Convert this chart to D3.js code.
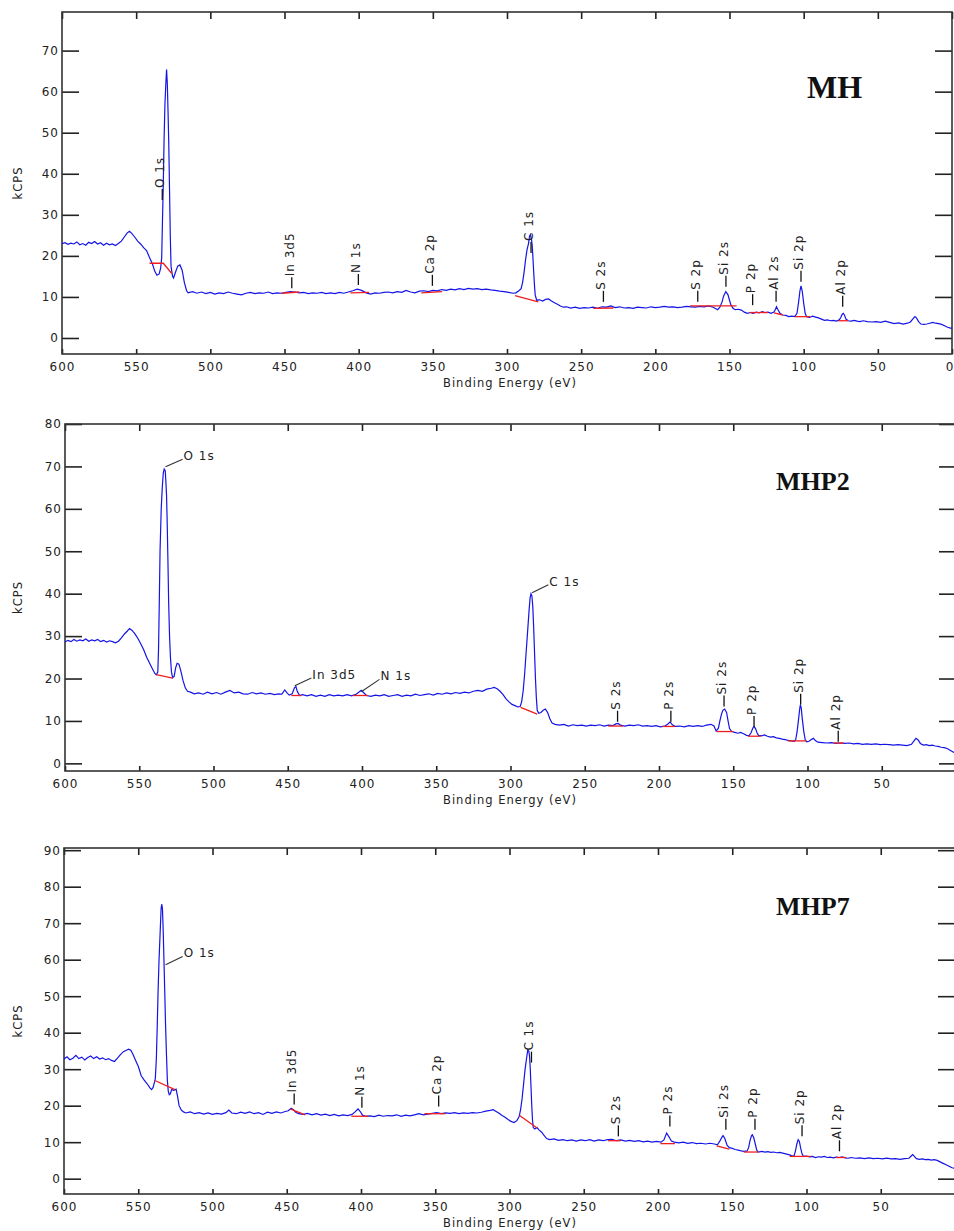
<!DOCTYPE html>
<html>
<head>
<meta charset="utf-8">
<script src="https://cdn.jsdelivr.net/npm/d3@7/dist/d3.min.js"></script>
<style>
  body { margin: 0; background: #fff; }
  .tick text { font-family: "DejaVu Sans", sans-serif; font-size: 12px; letter-spacing: 1px; fill: #222; }
</style>
</head>
<body>
<div id="chart"></div>
<script>
// XPS survey spectra for MH, MHP2, MHP7 (binding energy vs kCPS)

var energyTicks = [600, 550, 500, 450, 400, 350, 300, 250, 200, 150, 100, 50, 0];

// ---- MH ----
var mhTicks = [0, 10, 20, 30, 40, 50, 60, 70];
var mhSpectrum = [
  [600,23.0],[598,23.2],[596,22.8],[594,23.1],[592,22.9],[590,23.4],[588,22.7],[586,23.0],[584,22.6],[582,23.3],
  [580,23.0],[578,23.5],[576,22.9],[574,23.2],[572,22.6],[570,23.1],[568,22.7],[566,22.9],[564,22.5],[562,23.0],
  [560,23.6],[558,24.6],[556,25.6],[554.5,26.0],[553,25.5],[551,24.6],[549,23.6],[547,22.9],[545,22.0],[543,21.3],
  [541,19.6],[539,18.0],[537.5,16.3],[536,15.3],[534.5,15.6],[533.5,17.0],[532.8,19.5],[532.3,28],[531.8,36],[531.2,48],
  [530.6,57],[530,62],[529.5,65.4],[529,62],[528.5,55],[528,47],[527.5,36],[527,25],[526.5,17.5],[525.5,15.0],
  [524.8,14.6],[523.5,16.0],[522,17.5],[520.5,17.8],[519,16.5],[517.5,13.5],[516,11.5],[515,11.0],[512,11.3],[509,10.9],
  [506,11.2],[503,10.8],[500,11.1],[497,10.7],[494,11.0],[491,10.8],[488,11.2],[485,10.9],[482,10.7],[479,10.5],
  [476,10.9],[473,11.1],[470,10.8],[467,11.0],[464,10.9],[461,11.2],[458,10.8],[455,11.0],[452,10.9],[449,11.1],
  [446,11.3],[443,11.2],[440,11.0],[437,11.1],[434,10.8],[431,11.0],[428,10.9],[425,11.1],[422,10.8],[419,11.0],
  [416,10.8],[413,11.1],[410,10.9],[407,11.2],[404,11.5],[401,11.9],[398,11.6],[395,11.0],[392,10.7],[389,11.0],
  [386,10.9],[383,11.1],[380,11.2],[377,11.0],[374,11.3],[371,11.1],[368,11.6],[365,11.2],[362,11.0],[359,11.4],
  [356,11.5],[353,11.3],[350,11.6],[347,11.5],[344,11.8],[341,11.6],[338,11.9],[335,11.7],[332,12.0],[329,11.8],
  [326,12.1],[323,11.9],[320,12.0],[317,11.8],[314,11.9],[311,11.7],[308,11.6],[305,11.4],[302,11.3],[299,11.1],
  [296,10.9],[294,11.0],[292,11.5],[290.5,12.0],[289.5,13.5],[288.5,16],[287.5,19],[286.5,21.5],[285.5,23],[284.8,24.8],
  [284.2,25.2],[283.5,24.0],[283,22.5],[282.5,19.5],[282,16],[281.5,13],[281,10.5],[280,9.2],[278,9.3],[276,9.0],
  [274,9.4],[272,9.5],[270,9.0],[268,8.6],[266,8.2],[264,7.8],[262,7.5],[260,7.6],[257,7.3],[254,7.5],
  [251,7.2],[248,7.4],[245,7.3],[242,7.5],[239,7.2],[236,7.6],[233,7.5],[230,7.8],[227,7.4],[224,7.6],
  [221,7.3],[218,7.4],[215,7.2],[212,7.5],[209,7.4],[206,7.3],[203,7.6],[200,7.4],[197,7.5],[194,7.7],
  [191,7.5],[188,7.6],[185,7.4],[182,7.5],[179,7.7],[176,7.6],[173,7.5],[170,7.7],[167,7.6],[164,7.8],
  [161,7.5],[158,6.9],[156.5,7.5],[155,8.8],[154,10.2],[152.5,11.3],[151,10.5],[150,9.2],[149,8.0],[147.5,7.2],
  [146,6.9],[144,7.0],[142,6.8],[140,6.3],[138,6.0],[136,6.2],[134,6.0],[132,6.3],[130,6.1],[128,6.4],
  [126,6.2],[124,6.3],[122,6.0],[120,6.3],[119,7.0],[118.3,7.6],[117.5,7.0],[116,6.0],[114,5.6],[112,5.5],
  [110,5.2],[108,5.3],[106,5.2],[104.5,6.0],[103.5,8.5],[102.5,11.5],[101.8,12.7],[101,11.5],[100,8.5],[99,6.0],
  [98,5.2],[96,5.0],[94,5.3],[92,5.1],[90,4.9],[88,4.6],[86,4.3],[84,4.4],[82,4.2],[80,4.3],
  [78,4.1],[76,4.4],[75,5.0],[74,5.8],[73.3,6.0],[72.5,5.6],[71.5,4.6],[70,4.2],[68,4.1],[66,4.3],
  [64,4.1],[62,4.0],[60,4.2],[57,4.0],[54,3.9],[51,4.0],[48,3.8],[45,4.1],[42,3.8],[39,3.5],
  [36,3.7],[33,3.4],[30,3.6],[28,3.9],[26.5,4.6],[25,5.2],[24,4.9],[22.5,4.0],[21,3.4],[19,3.3],
  [17,3.4],[15,3.6],[13,3.8],[11,3.6],[9,3.5],[7,3.3],[5,3.0],[3,2.6],[1,2.4],[0,2.4]
];
var mhBackground = [
  [[541,18.2],[531.7,18.2],[526,15.7]],
  [[452,10.9],[440,11.2]],
  [[405.6,11.0],[393,11.1]],
  [[357.8,11.0],[343.7,11.3]],
  [[294.6,10.3],[278.9,8.8]],
  [[241.8,7.2],[228.3,7.3]],
  [[176.6,7.8],[145.2,7.8]],
  [[136.2,6.2],[124,6.2]],
  [[120,6.1],[114,5.6]],
  [[105.8,5.2],[95.7,5.2]],
  [[76.7,4.2],[70,4.2]]
];
// [label, energy of leader, kCPS at leader foot]
var mhLabels = [
  ["O 1s", 532.4, 33.6], ["In 3d5", 445.1, 12.1], ["N 1s", 400.2, 12.9], ["Ca 2p", 350.3, 12.7],
  ["C 1s", 283.8, 20.7], ["S 2s", 235.0, 8.8], ["S 2p", 171.4, 8.8], ["Si 2s", 152.4, 12.5],
  ["P 2p", 134.4, 8.0], ["Al 2s", 118.6, 8.8], ["Si 2p", 101.8, 13.7], ["Al 2p", 73.7, 7.6]
];
var mhFlatLabels = [];

// ---- MHP2 ----
var mhp2Ticks = [0, 10, 20, 30, 40, 50, 60, 70, 80];
var mhp2Spectrum = [
  [600,28.6],[598,29.0],[596,28.7],[594,29.2],[592,28.8],[590,29.1],[588,28.9],[586,29.3],[584,28.8],[582,29.1],
  [580,28.9],[578,29.2],[576,28.7],[574,29.0],[572,28.6],[570,28.9],[568,28.7],[566,28.4],[564,28.8],[562,29.6],
  [560,30.5],[558,31.2],[556.5,31.8],[555,31.4],[553,30.6],[551,29.5],[549,28.2],[547,26.8],[545,25.0],[543,23.6],
  [541,22.2],[539.5,21.2],[538.5,20.9],[537.5,21.5],[537,27],[536.5,38],[536,50],[535.2,60],[534.5,65],[533.8,68.5],
  [533.2,69.4],[532.5,69.0],[532,66],[531.6,63],[531.2,57],[530.7,48],[530.2,38],[529.6,30],[529,25],[528.3,21.5],
  [527.5,20.2],[526.5,20.5],[525.5,22.5],[524.5,23.6],[523.3,23.4],[522,21.8],[520.5,19.5],[519,17.8],[517.5,17.0],[515.5,16.8],
  [513,16.4],[510,16.6],[507,16.3],[504,16.8],[501,16.4],[498,16.7],[495,16.3],[492,16.8],[489,17.2],[486,16.6],
  [483,16.8],[480,16.4],[477,16.3],[474,16.7],[471,16.4],[468,16.6],[465,16.3],[462,16.5],[459,16.2],[456,16.4],
  [454,16.3],[452,17.3],[450.5,16.6],[449,16.1],[447,16.4],[445.5,17.8],[444.5,18.1],[443.5,16.9],[442,16.0],[440,16.2],
  [437,15.9],[434,16.2],[431,15.8],[428,16.1],[425,15.8],[422,16.2],[419,15.9],[416,16.1],[413,15.9],[410,16.2],
  [407,15.9],[404,16.3],[402,16.8],[400.5,17.2],[399,16.7],[397,16.0],[394,15.8],[391,16.1],[388,15.9],[385,16.2],
  [382,15.8],[379,16.0],[376,16.2],[373,15.8],[370,16.1],[367,15.9],[364,16.3],[361,16.0],[358,16.2],[355,16.4],
  [352,16.1],[349,16.5],[346,16.3],[343,16.6],[340,16.4],[337,16.7],[334,16.5],[331,16.8],[328,16.6],[325,17.0],
  [322,17.2],[319,17.0],[316,17.5],[313,17.7],[311,17.9],[309,17.6],[307,17.0],[305,16.2],[303,15.2],[301,14.5],
  [299,13.9],[297,13.6],[295,13.3],[293.5,13.4],[292.5,14.5],[291.5,17],[290.5,21],[289.5,26],[288.5,31],[287.5,36],
  [286.8,39],[286.2,40.0],[285.6,39.5],[285,37],[284.4,32],[283.8,26],[283.2,20],[282.6,15.5],[282,12.5],[281,11.8],
  [279.5,12.0],[278,12.5],[276.5,12.8],[275,12.0],[273.5,10.5],[272,9.5],[270,9.2],[267,9.0],[264,9.2],[261,8.8],
  [258,9.1],[255,8.9],[252,9.0],[249,8.8],[246,9.0],[243,8.9],[240,9.1],[237,8.8],[234,9.0],[231,8.9],
  [229,9.3],[227.5,9.4],[226,9.0],[223,8.8],[220,9.0],[217,8.9],[214,9.1],[211,8.8],[208,8.9],[205,8.7],
  [202,8.9],[199,8.6],[196,8.8],[194,9.3],[192.5,9.8],[191,9.1],[189,8.7],[186,8.8],[183,8.6],[180,8.9],
  [177,8.7],[174,8.9],[171,8.7],[168,9.0],[165,9.2],[163,8.8],[161.5,7.6],[160,8.3],[159,10],[158,11.5],
  [157,12.5],[155.8,12.8],[154.5,12.0],[153.5,10],[152.5,8.2],[151,7.5],[149,7.3],[147,7.1],[145,7.3],[143,7.0],
  [141,6.6],[139.5,6.5],[138,7.2],[136.8,8.3],[136,8.7],[135,8.2],[134,7.2],[133,6.6],[131,6.5],[129,6.7],
  [127,6.4],[125,6.2],[123,6.3],[121,6.0],[119,5.9],[117,5.7],[115,5.6],[113,5.4],[111,5.3],[109,5.2],
  [108,5.5],[107,7.5],[106,10.5],[105.2,13],[104.8,13.8],[104.2,13],[103.5,10.5],[102.5,7.5],[101.5,5.5],[100.5,5.1],
  [99,5.2],[97.5,5.6],[96,5.9],[94.5,5.3],[93,5.0],[90,4.9],[87,4.8],[84,4.9],[81,4.7],[78,4.8],
  [75,4.7],[72,4.8],[69,4.6],[66,4.7],[63,4.5],[60,4.6],[57,4.5],[54,4.6],[51,4.4],[48,4.5],
  [45,4.4],[42,4.3],[39,4.4],[36,4.3],[33,4.2],[30,4.5],[28.5,5.2],[27,5.9],[25.5,5.5],[24,4.7],
  [22,4.3],[20,4.4],[18,4.2],[16,4.3],[14,4.1],[12,4.0],[10,3.8],[8,3.7],[6,3.5],[4,3.1],[2,2.7],[0,2.4]
];
var mhp2Background = [
  [[538.5,20.9],[527.5,20.1]],
  [[447.6,16.0],[440.8,16.0]],
  [[406,16.0],[396,16.0]],
  [[293.2,13.2],[282,11.6]],
  [[234.2,8.8],[224.3,8.8]],
  [[197.6,8.7],[189.2,8.7]],
  [[161.1,7.5],[149.9,7.5]],
  [[140,6.4],[131.6,6.4]],
  [[113.3,5.3],[100.7,5.3]],
  [[82.4,4.8],[75.4,4.8]]
];
var mhp2Labels = [
  ["S 2s", 227.9, 9.8], ["P 2s", 192.0, 9.8], ["Si 2s", 156.2, 13.4],
  ["P 2p", 136.0, 8.6], ["Si 2p", 104.6, 13.8], ["Al 2p", 79.3, 5.1]
];
// [label, peak energy, peak kCPS, text energy, text kCPS]
var mhp2FlatLabels = [
  ["O 1s", 532.3, 69.9, 520.8, 71.7], ["C 1s", 285.5, 40.2, 274.5, 42.1],
  ["In 3d5", 445.3, 18.3, 434.1, 20.1], ["N 1s", 400.5, 16.9, 388.2, 19.8]
];

// ---- MHP7 ----
var mhp7Ticks = [0, 10, 20, 30, 40, 50, 60, 70, 80, 90];
var mhp7Spectrum = [
  [600,32.8],[598,33.4],[596,32.6],[594,33.0],[592,33.8],[590,32.9],[588,33.3],[586,32.5],[584,33.2],[582,33.6],
  [580,32.9],[578,33.4],[576,32.8],[574,33.1],[572,32.6],[570,32.9],[568,32.4],[566,32.1],[564,33.0],[562,34.0],
  [560,34.8],[558,35.2],[556.5,35.5],[555,35.2],[553.5,34.0],[552,32.6],[550,30.8],[548,28.2],[546,27.0],[544,26.0],
  [542,24.8],[541,24.4],[540,25.0],[539,26.5],[538.5,27.5],[537.8,33],[537.2,42],[536.6,52],[536,60],[535.2,68],
  [534.6,74],[534.2,75.2],[533.7,74],[533.2,68],[532.7,60],[532.2,52],[531.6,42],[531,34],[530.4,27],[529.8,24],
  [529.1,23.0],[528.4,23.2],[527.5,24.4],[526,24.2],[524.5,24.5],[523.5,22.5],[522.5,20.0],[521,18.8],[519.5,18.3],[518,18.0],
  [515,18.3],[512,17.8],[509,18.1],[506,17.7],[503,18.0],[500,17.6],[497,17.9],[494,17.7],[491,18.1],[489,18.8],
  [487,18.0],[484,17.8],[481,18.2],[478,17.9],[475,18.3],[472,17.8],[469,18.1],[466,17.6],[463,18.2],[460,17.9],
  [457,18.3],[454,18.0],[451,18.4],[449,18.6],[447,19.3],[445.5,18.9],[444,18.2],[442,17.8],[439,17.6],[436,17.9],
  [433,17.5],[430,17.8],[427,17.4],[424,17.7],[421,17.3],[418,17.6],[415,17.2],[412,17.5],[409,17.3],[406,17.6],
  [404,18.3],[402,19.1],[400.5,18.4],[399,17.4],[397,17.1],[394,17.2],[391,17.0],[388,17.4],[385,17.1],[382,17.3],
  [379,17.2],[376,17.5],[373,17.1],[370,17.4],[367,17.2],[364,17.5],[361,17.8],[358,17.5],[355,17.7],[352,17.9],
  [349,18.1],[346,17.8],[343,18.0],[340,17.9],[337,18.1],[334,17.8],[331,18.0],[328,17.9],[325,18.1],[322,18.0],
  [319,18.2],[316,18.5],[313,18.7],[311,18.9],[309,18.4],[307,17.9],[305,17.3],[303,16.8],[301,16.2],[299,15.7],
  [297,15.4],[295,15.9],[293.5,17.0],[292.5,19],[291.5,22],[290.5,26],[289.5,30],[288.5,33],[287.7,35.3],[287,35.0],
  [286.5,33.5],[286,30],[285.5,25],[285,20],[284.5,16],[284,14.0],[283,13.6],[281.5,14.0],[280,13.3],[278.5,12.8],
  [277,12.0],[275,11.0],[273,10.7],[270,10.9],[267,10.5],[264,10.7],[261,10.4],[258,10.6],[255,10.3],[252,10.6],
  [249,10.4],[246,10.7],[243,10.3],[240,10.6],[237,10.4],[234,10.7],[231,10.8],[228,10.4],[225,10.6],[222,10.3],
  [219,10.5],[216,10.2],[213,10.4],[210,10.1],[207,10.3],[204,10.0],[201,10.2],[198,10.0],[196,10.6],[194.2,12.5],
  [192.5,11.4],[191,10.3],[189,10.0],[186,9.8],[183,10.0],[180,9.7],[177,9.9],[174,9.6],[171,9.7],[168,9.5],
  [165,9.7],[162,9.5],[160,9.3],[158.5,10.2],[157,11.3],[156.2,11.8],[155,11.0],[153.5,9.2],[152,8.5],[150,8.3],
  [148,8.0],[146,7.8],[144,7.6],[142,7.5],[140,7.6],[139,8.5],[138,10.5],[137,11.8],[136.5,12.0],[135.5,11.2],
  [134.5,9.5],[133.5,7.8],[132.5,7.3],[130,7.5],[128,7.3],[126,7.4],[124,7.2],[122,7.3],[120,7.1],[118,7.2],
  [116,7.0],[114,6.8],[112,6.6],[110,6.3],[108.5,6.1],[107.5,7.5],[106.5,9.5],[105.6,10.7],[104.8,10.2],[104,8.5],
  [103,6.8],[102,6.1],[100,6.2],[98,6.0],[96,6.1],[94,5.8],[92,6.0],[90,5.9],[88,6.1],[86,5.8],
  [84,5.9],[82,5.7],[80,5.9],[78,5.8],[76,6.0],[74,5.7],[72,5.6],[70,5.8],[67,5.6],[64,5.7],
  [61,5.5],[58,5.7],[55,5.5],[52,5.6],[49,5.4],[46,5.6],[43,5.4],[40,5.5],[37,5.3],[34,5.5],
  [31,5.6],[29.5,6.2],[28.5,6.6],[27.5,6.2],[26,5.5],[24,5.3],[22,5.4],[20,5.2],[18,5.3],[16,5.1],
  [14,5.2],[12,5.0],[10,4.6],[8,4.2],[6,3.8],[4,3.4],[2,3.0],[0,2.8]
];
var mhp7Background = [
  [[538.8,26.9],[525.3,24.4]],
  [[447.7,19.1],[437.6,17.5]],
  [[406.5,17.1],[395.2,17.1]],
  [[357.3,17.8],[343.2,17.8]],
  [[293.2,17.3],[281.4,13.9]],
  [[233.6,10.4],[225.1,10.4]],
  [[198.4,9.6],[188.6,9.6]],
  [[160.5,9.0],[152,8.1]],
  [[142.2,7.3],[132.4,7.3]],
  [[111.3,6.1],[97.2,6.1]],
  [[80.3,5.8],[73.3,5.8]]
];
var mhp7Labels = [
  ["In 3d5", 445.0, 20.3], ["N 1s", 399.4, 19.4], ["Ca 2p", 347.7, 19.8], ["C 1s", 285.2, 31.8],
  ["S 2s", 226.7, 11.6], ["P 2s", 192.0, 14.3], ["Si 2s", 154.3, 13.4], ["P 2p", 134.7, 13.4],
  ["Si 2p", 103.0, 11.6], ["Al 2p", 77.8, 7.5]
];
var mhp7FlatLabels = [["O 1s", 531.6, 58.6, 520.1, 60.9]];

// bottom tick labels (the last one falls off the page for the lower two panels)
var mhEnergyLabels = energyTicks;
var mhpEnergyLabels = energyTicks.slice(0, 12);

var panels = [
  {name: "MH", spectrum: mhSpectrum, background: mhBackground, labels: mhLabels, flat: mhFlatLabels, ticks: mhTicks,
   xLabels: mhEnergyLabels,
   left: 62, right: 952, top: 12, bottom: 354, yDomain: [-3.9, 79.4], titleX: 807, titleY: 98, titleSize: 32},
  {name: "MHP2", spectrum: mhp2Spectrum, background: mhp2Background, labels: mhp2Labels, flat: mhp2FlatLabels, ticks: mhp2Ticks,
   xLabels: mhpEnergyLabels,
   left: 65, right: 956, top: 424, bottom: 771, yDomain: [-1.8, 80.0], titleX: 776, titleY: 490, titleSize: 26},
  {name: "MHP7", spectrum: mhp7Spectrum, background: mhp7Background, labels: mhp7Labels, flat: mhp7FlatLabels, ticks: mhp7Ticks,
   xLabels: mhpEnergyLabels,
   left: 64, right: 955, top: 848, bottom: 1194, yDomain: [-4.2, 90.6], titleX: 776, titleY: 915, titleSize: 26}
];

var svg = d3.select("#chart").append("svg")
    .attr("width", 954).attr("height", 1231);

var labelFont = "'DejaVu Sans', sans-serif";

panels.forEach(function(p) {
    var x = d3.scaleLinear().domain([600, 0]).range([p.left, p.right]);
    var y = d3.scaleLinear().domain(p.yDomain).range([p.bottom, p.top]);
    var g = svg.append("g");

    // axes: long ticks inside on left/right, short ticks top and bottom
    g.append("g").attr("transform", `translate(${p.left},0)`)
        .call(d3.axisLeft(y).tickValues(p.ticks).tickSize(-17).tickPadding(3));
    g.append("g").attr("transform", `translate(${p.right},0)`)
        .call(d3.axisRight(y).tickValues(p.ticks).tickSize(-17).tickFormat(""));
    g.append("g").attr("transform", `translate(0,${p.top})`)
        .call(d3.axisTop(x).tickValues(energyTicks).tickSize(-7).tickFormat(""));
    g.append("g").attr("transform", `translate(0,${p.bottom})`)
        .call(d3.axisBottom(x).tickValues(energyTicks).tickSize(-5).tickFormat(""));
    g.append("g").attr("class", "xlab").attr("transform", `translate(0,${p.bottom})`)
        .call(d3.axisBottom(x).tickValues(p.xLabels).tickSize(0).tickPadding(8));
    g.selectAll(".domain").remove();
    g.selectAll(".tick line").attr("stroke", "#222").attr("stroke-width", 1.6);
    // keep the "0" label of the top panel on the page
    g.selectAll(".xlab .tick text").filter(d => d === 0)
        .attr("text-anchor", "end").attr("x", 954 - p.right);

    g.append("rect")
        .attr("x", p.left).attr("y", p.top)
        .attr("width", p.right - p.left).attr("height", p.bottom - p.top)
        .attr("fill", "none").attr("stroke", "#333").attr("stroke-width", 1.6);

    // axis titles
    g.append("text")
        .attr("x", 510).attr("y", p.bottom + 33)
        .attr("text-anchor", "middle")
        .style("font-family", labelFont).style("font-size", "11.5px").style("letter-spacing", "1px")
        .attr("fill", "#222")
        .text("Binding Energy (eV)");
    g.append("text")
        .attr("transform", `translate(22,${(p.top + p.bottom) / 2}) rotate(-90)`)
        .attr("text-anchor", "middle")
        .style("font-family", labelFont).style("font-size", "11.5px").style("letter-spacing", "1px")
        .attr("fill", "#222")
        .text("kCPS");

    // spectrum + backgrounds
    var line = d3.line().x(d => x(d[0])).y(d => y(d[1]));
    g.append("path").datum(p.spectrum)
        .attr("d", line).attr("fill", "none")
        .attr("stroke", "#1414e6").attr("stroke-width", 1.2);
    g.selectAll(".bg").data(p.background).enter().append("path")
        .attr("d", line).attr("fill", "none")
        .attr("stroke", "#f01e1e").attr("stroke-width", 1.3);

    // vertical peak labels
    var vl = g.selectAll(".vlab").data(p.labels).enter().append("g");
    vl.append("line")
        .attr("x1", d => x(d[1])).attr("x2", d => x(d[1]))
        .attr("y1", d => y(d[2])).attr("y2", d => y(d[2]) - 11)
        .attr("stroke", "#111").attr("stroke-width", 1.3);
    vl.append("text")
        .attr("transform", d => `translate(${x(d[1]) + 2},${y(d[2]) - 12}) rotate(-90)`)
        .style("font-family", labelFont).style("font-size", "12px").style("letter-spacing", "1px")
        .attr("fill", "#222")
        .text(d => d[0]);

    // horizontal labels with slanted leader
    var hl = g.selectAll(".hlab").data(p.flat).enter().append("g");
    hl.append("line")
        .attr("x1", d => x(d[1])).attr("y1", d => y(d[2]))
        .attr("x2", d => x(d[3])).attr("y2", d => y(d[4]))
        .attr("stroke", "#333").attr("stroke-width", 1.1);
    hl.append("text")
        .attr("x", d => x(d[3]) + 1).attr("y", d => y(d[4]) + 1)
        .style("font-family", labelFont).style("font-size", "12px").style("letter-spacing", "1px")
        .attr("fill", "#222")
        .text(d => d[0]);

    // sample name
    g.append("text")
        .attr("x", p.titleX).attr("y", p.titleY)
        .style("font-family", "'Liberation Serif', 'Times New Roman', serif")
        .style("font-weight", "bold").style("font-size", p.titleSize + "px")
        .attr("fill", "#111")
        .text(p.name);
});
</script>
</body>
</html>
